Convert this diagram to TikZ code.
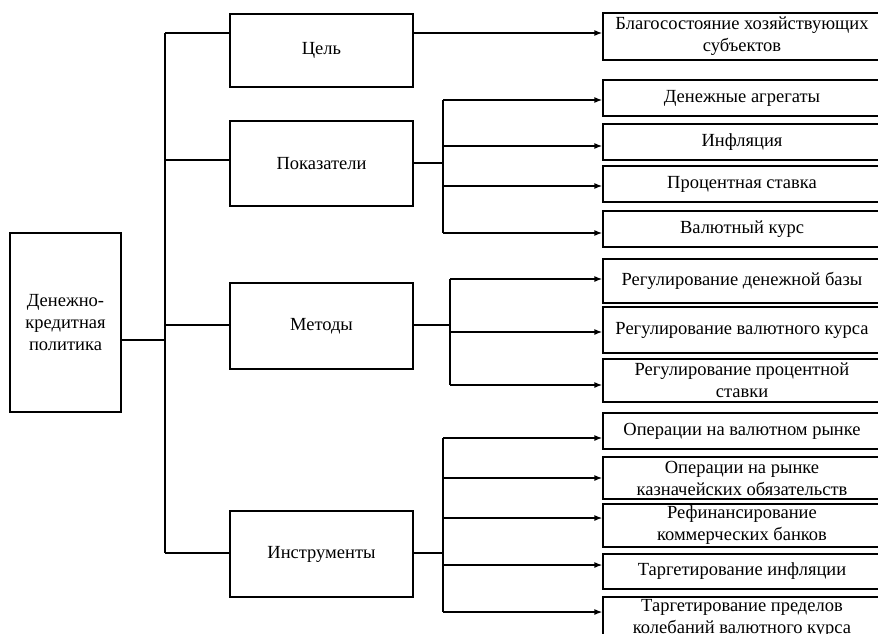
\documentclass[tikz,border=0pt]{standalone}
\usepackage{fontspec}
\setmainfont{Liberation Serif}
\usetikzlibrary{arrows.meta}

\begin{document}
\begin{tikzpicture}[x=1pt, y=-1pt, line width=1.3pt]
      \clip (0,0) rectangle (878,634);
      \begin{scope}[every node/.style={draw, rectangle, inner sep=0pt, align=center,
          font=\fontsize{18.5}{22}\selectfont},
        midbox/.style={minimum width=183pt},
        leaf/.style={minimum width=278pt}]
        \node (dkp) [minimum width=111pt, minimum height=179pt] at (65.5,322.5) {Денежно-\\кредитная\\политика};
        \node (goal) [midbox, minimum height=73pt] at (321.5,50.5) {Цель};
        \node (ind) [midbox, minimum height=85pt] at (321.5,163.5) {Показатели};
        \node (meth) [midbox, minimum height=86pt] at (321.5,326) {Методы};
        \node (instr) [midbox, minimum height=86pt] at (321.5,554) {Инструменты};
        \node (r0) [leaf, minimum height=47pt] at (742,36.5) {Благосостояние хозяйствующих\\субъектов};
        \node (r1) [leaf, minimum height=36pt] at (742,98) {Денежные агрегаты};
        \node (r2) [leaf, minimum height=36pt] at (742,142) {Инфляция};
        \node (r3) [leaf, minimum height=36pt] at (742,184) {Процентная ставка};
        \node (r4) [leaf, minimum height=36pt] at (742,229) {Валютный курс};
        \node (r5) [leaf, minimum height=44pt] at (742,281) {Регулирование денежной базы};
        \node (r6) [leaf, minimum height=46pt] at (742,330) {Регулирование валютного курса};
        \node (r7) [leaf, minimum height=43pt] at (742,380.5) {Регулирование процентной\\ставки};
        \node (r8) [leaf, minimum height=36pt] at (742,431) {Операции на валютном рынке};
        \node (r9) [leaf, minimum height=42pt] at (742,478) {Операции на рынке\\казначейских обязательств};
        \node (r10) [leaf, minimum height=43pt] at (742,525.5) {Рефинансирование\\коммерческих банков};
        \node (r11) [leaf, minimum height=35pt] at (742,571.5) {Таргетирование инфляции};
        \node (r12) [leaf, minimum height=43pt] at (742,618.5) {Таргетирование пределов\\колебаний валютного курса};
      \end{scope}
      % trunk
      \coordinate (t0) at (165,340);
      \coordinate (tg) at (165,33);
      \coordinate (ti) at (165,160);
      \coordinate (tm) at (165,325);
      \coordinate (tn) at (165,553);
      \draw (tg) -- (tn);
      \draw (t0 -| dkp.east) -- (t0);
      \draw (tg) -- (tg -| goal.west);
      \draw (ti) -- (ti -| ind.west);
      \draw (tm) -- (tm -| meth.west);
      \draw (tn) -- (tn -| instr.west);
      % branches
      \coordinate (bi) at (443,163);
      \coordinate (bm) at (450,325);
      \coordinate (bn) at (443,553);
      \coordinate (a1) at (443,100);
      \coordinate (a2) at (443,146);
      \coordinate (a3) at (443,186);
      \coordinate (a4) at (443,233);
      \coordinate (a5) at (450,279);
      \coordinate (a6) at (450,332);
      \coordinate (a7) at (450,385);
      \coordinate (a8) at (443,438);
      \coordinate (a9) at (443,478);
      \coordinate (a10) at (443,518);
      \coordinate (a11) at (443,565);
      \coordinate (a12) at (443,612);
      \draw (bi -| ind.east) -- (bi);
      \draw (bm -| meth.east) -- (bm);
      \draw (bn -| instr.east) -- (bn);
      \draw (a1) -- (a4);
      \draw (a5) -- (a7);
      \draw (a8) -- (a12);
      \begin{scope}
        [every edge/.style={draw, line width=1.3pt, -{Latex[length=8pt,width=6pt]}}]
        \path (goal.east |- tg) edge (tg -| r0.west);
        \foreach \i in {1,...,12}
          \path (a\i) edge (a\i -| r\i.west);
      \end{scope}
    \end{tikzpicture}
\end{document}
